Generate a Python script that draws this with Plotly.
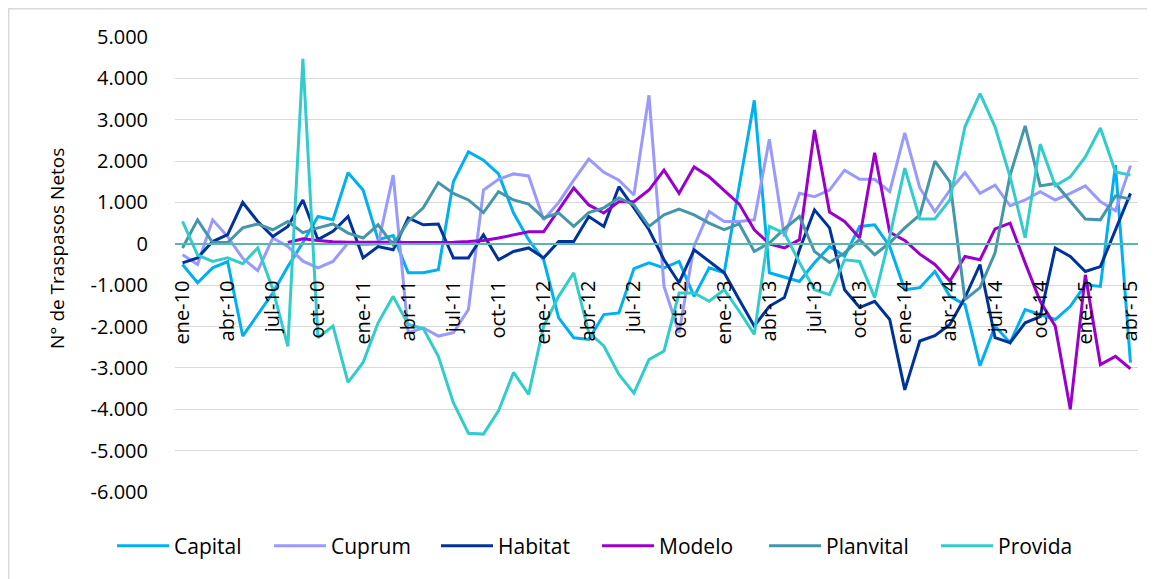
import plotly.graph_objects as go

months = [
    "ene-10", "feb-10", "mar-10", "abr-10", "may-10", "jun-10", "jul-10", "ago-10", "sep-10", "oct-10", "nov-10", "dic-10",
    "ene-11", "feb-11", "mar-11", "abr-11", "may-11", "jun-11", "jul-11", "ago-11", "sep-11", "oct-11", "nov-11", "dic-11",
    "ene-12", "feb-12", "mar-12", "abr-12", "may-12", "jun-12", "jul-12", "ago-12", "sep-12", "oct-12", "nov-12", "dic-12",
    "ene-13", "feb-13", "mar-13", "abr-13", "may-13", "jun-13", "jul-13", "ago-13", "sep-13", "oct-13", "nov-13", "dic-13",
    "ene-14", "feb-14", "mar-14", "abr-14", "may-14", "jun-14", "jul-14", "ago-14", "sep-14", "oct-14", "nov-14", "dic-14",
    "ene-15", "feb-15", "mar-15", "abr-15",
]
tick_months = months[::3]

capital = [
    -500, -940, -580, -430, -2230, -1710, -1190, -550, 30, 660, 580, 1720,
    1300, 100, 200, -700, -700, -625, 1500, 2225, 2020, 1690, 745, 100,
    -390, -1790, -2270, -2310, -1710, -1670, -600, -460, -580, -425, -1270, -580,
    -700, 1400, 3470, -700, -800, -910, -460, -65, -300, 420, 460, -65,
    -1110, -1060, -670, -1270, -1470, -2950, -1990, -2390, -1590, -1710, -1830, -1510,
    -990, -1030, 1900, -2870,
]
cuprum = [
    -265, -500, 580, 175, -350, -650, 140, -65, -420, -580, -425, 20,
    -25, 0, 1660, -2150, -2030, -2230, -2150, -1590, 1300, 1560, 1690, 1640,
    580, 1000, 1540, 2050, 1730, 1540, 1180, 3590, -1030, -2150, -50, 780,
    540, 540, 580, 2530, 175, 1220, 1140, 1300, 1780, 1560, 1560, 1260,
    2680, 1350, 780, 1300, 1720, 1220, 1420, 920, 1060, 1260, 1060, 1220,
    1400, 1020, 800, 1890,
]
habitat = [
    -460, -340, 55, 220, 1000, 540, 175, 420, 1060, 100, 300, 660,
    -340, -65, -145, 625, 460, 480, -340, -340, 220, -385, -185, -100,
    -340, 55, 55, 660, 420, 1380, 870, 340, -385, -940, -145, -425,
    -700, -1350, -1990, -1510, -1300, -145, 820, 385, -1110, -1540, -1390, -1830,
    -3530, -2350, -2220, -1950, -1300, -500, -2270, -2390, -1910, -1760, -100, -305,
    -670, -550, 340, 1220,
]
modelo = [
    None, None, None, None, None, None, None, 30, 120, 80, 50, 40,
    40, 50, 40, 30, 30, 40, 40, 55, 80, 140, 220, 290,
    290, 820, 1350, 940, 745, 1020, 1020, 1300, 1780, 1220, 1860, 1620,
    1300, 960, 340, 0, -100, 100, 2750, 770, 540, 140, 2200, 280,
    80, -250, -500, -900, -305, -385, 360, 500, -460, -1390, -1990, -4000,
    -750, -2920, -2720, -3020,
]
planvital = [
    -100, 580, 30, 30, 385, 480, 340, 540, 270, 385, 480, 260,
    140, 460, -25, 540, 870, 1480, 1220, 1060, 755, 1260, 1060, 960,
    625, 745, 420, 755, 870, 1110, 940, 420, 700, 840, 700, 500,
    340, 480, -185, 20, 360, 660, -185, -450, -220, 100, -265, 25,
    385, 700, 2000, 1500, -1350, -1060, -220, 1660, 2850, 1400, 1460, 1020,
    600, 580, 1160, 1080,
]
provida = [
    540, -270, -425, -340, -480, -100, -1100, -2480, 4475, -2270, -1990, -3350,
    -2870, -1910, -1270, -1950, -2050, -2720, -3840, -4580, -4600, -4040, -3110, -3640,
    -1990, -1270, -700, -2150, -2470, -3160, -3610, -2800, -2590, -1190, -1190, -1390,
    -1110, -1630, -2190, 420, 260, -450, -1110, -1230, -385, -425, -1300, 175,
    1830, 600, 600, 1060, 2830, 3630, 2830, 1620, 145, 2410, 1405, 1620,
    2100, 2800, 1740, 1660,
]

series_names = ["Capital", "Cuprum", "Habitat", "Modelo", "Planvital", "Provida"]
series_values = [capital, cuprum, habitat, modelo, planvital, provida]
series_colors = ["#00B0F0", "#9999FF", "#003399", "#9900CC", "#4596AB", "#33CCCC"]

y_tickvals = [5000, 4000, 3000, 2000, 1000, 0, -1000, -2000, -3000, -4000, -5000, -6000]
y_ticktext = ["5.000", "4.000", "3.000", "2.000", "1.000", "0", "-1.000", "-2.000",
              "-3.000", "-4.000", "-5.000", "-6.000"]

FONT = "Open Sans"
OFF = 8  # page body margin of the html page
W, H = 1155 - OFF, 579 - OFF
ML, MT = 175 - OFF, 37 - OFF
MR = W - (1138 - OFF)
MB = H - (492 - OFF)
PW = W - ML - MR
PH = H - MT - MB


def px_x(px):  # page pixel -> paper x
    return (px - OFF - ML) / PW


def px_y(py):  # page pixel -> paper y
    return (PH - (py - OFF - MT)) / PH


# page-pixel left of each legend line sample
legend_line_px = [118, 275, 442, 603, 770, 942]

fig = go.Figure()
legend_layouts = {}
for k, (name, vals, col) in enumerate(zip(series_names, series_values, series_colors)):
    lname = "legend" if k == 0 else f"legend{k + 1}"
    fig.add_trace(go.Scatter(
        x=months, y=vals, name=name, mode="lines",
        line=dict(color=col, width=3), connectgaps=False, legend=lname,
    ))
    legend_layouts[lname] = dict(
        orientation="h", x=px_x(legend_line_px[k] - 6), xanchor="left",
        y=px_y(546), yanchor="middle",
        font=dict(family=FONT, size=21, color="black"),
        itemwidth=52, bgcolor="rgba(0,0,0,0)", borderwidth=0,
    )

ymin, ymax = -6000, 5000
fig.update_layout(
    width=W, height=H,
    margin=dict(l=ML, r=MR, t=MT, b=MB, autoexpand=False),
    paper_bgcolor="white", plot_bgcolor="white",
    font=dict(family=FONT, size=20, color="black"),
    showlegend=True,
    xaxis=dict(
        type="category", categoryorder="array", categoryarray=months,
        range=[-0.5, len(months) - 0.5],
        tickmode="array", tickvals=tick_months, ticktext=tick_months,
        tickangle=-90, anchor="free", position=(0 - ymin) / (ymax - ymin),
        showline=True, linecolor="#5DB3AE", linewidth=1.5,
        showgrid=False, zeroline=False, ticks="", automargin=False,
        ticklabelstandoff=28,
        tickfont=dict(family=FONT, size=20, color="black"),
    ),
    yaxis=dict(
        range=[ymin, ymax], tickmode="array", tickvals=y_tickvals, ticktext=y_ticktext,
        showgrid=True, gridcolor="#D9D9D9", gridwidth=1.3,
        zeroline=False, showline=False, ticks="", automargin=False,
        ticklabelstandoff=26,
        tickfont=dict(family=FONT, size=20, color="black"),
    ),
    annotations=[dict(
        text="N° de Traspasos Netos", textangle=-90,
        xref="paper", yref="paper", x=px_x(57), y=px_y(249),
        xanchor="center", yanchor="middle", showarrow=False,
        font=dict(family=FONT, size=19, color="black"),
    )],
    shapes=[dict(
        type="path", xref="paper", yref="paper",
        path=f"M {px_x(8.7)},-0.3 L {px_x(8.7)},{px_y(8.7)} L 1.05,{px_y(8.7)}",
        line=dict(color="#D9D9D9", width=1.5), layer="below",
    )],
)
fig.update_layout(**legend_layouts)

fig.write_html("out.html")
